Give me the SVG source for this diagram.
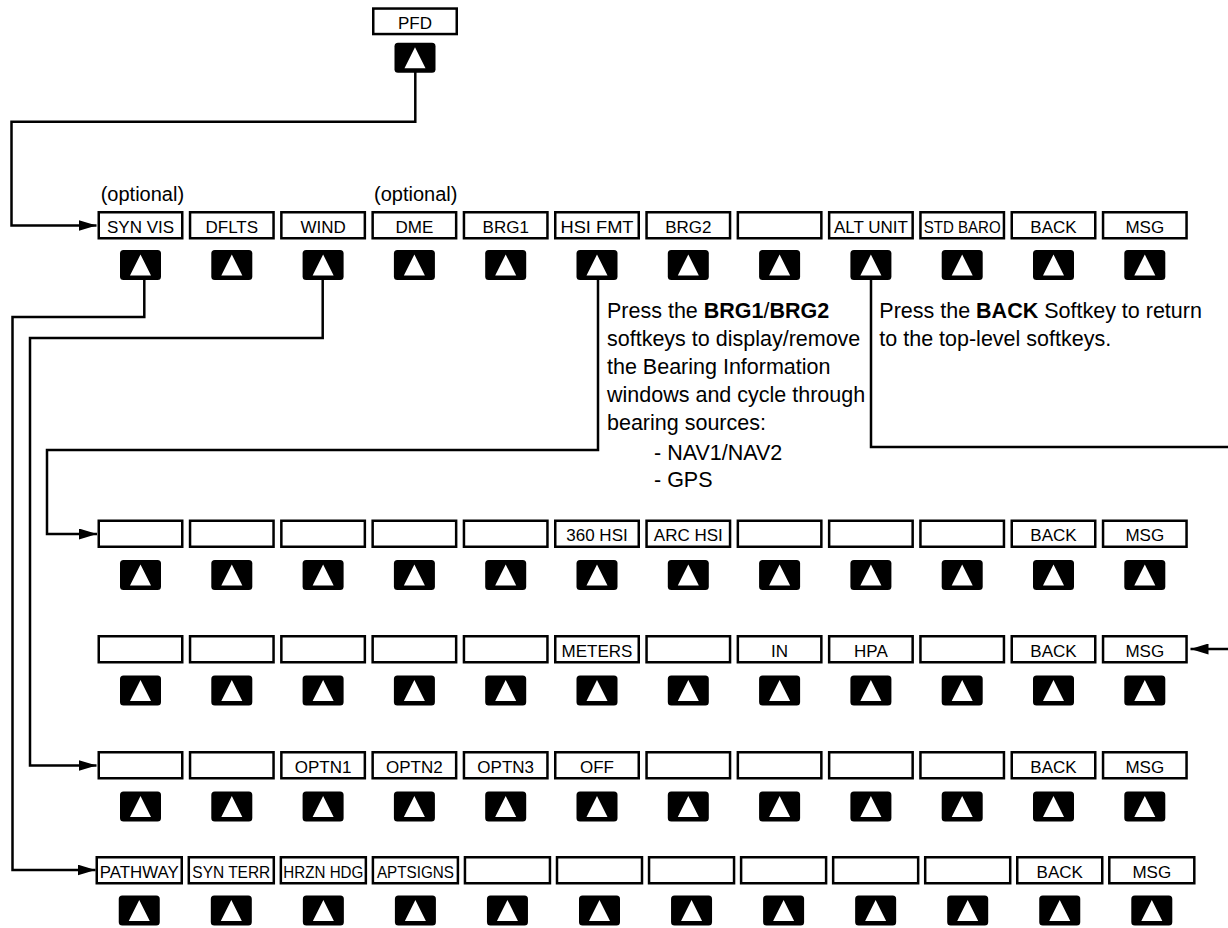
<svg xmlns="http://www.w3.org/2000/svg" xmlns:xlink="http://www.w3.org/1999/xlink" width="1228" height="928" viewBox="0 0 1228 928">
<style>
text{font-family:"Liberation Sans",Arial,sans-serif;fill:#000}
.k{fill:#fff;stroke:#000;stroke-width:2.5}
.l{font-size:17px;text-anchor:middle}
.n{font-size:21.5px}
.o{font-size:20px}
.c{fill:none;stroke:#000;stroke-width:2.5}
</style>
<defs>
<g id="btn"><rect x="-20.5" y="0" width="41" height="30" rx="3.5" fill="#000"/><polygon points="0,4.5 10.5,25.5 -10.5,25.5" fill="#fff"/></g>
<marker id="ah" markerUnits="userSpaceOnUse" markerWidth="19" markerHeight="11" refX="18" refY="5.5" orient="auto"><path d="M0,0 L18,5.5 L0,11 z" fill="#000"/></marker>
</defs>

<g id="connectors">
<path class="c" d="M415.3,72 V121.7 H11.5 V225.5 H96.5" marker-end="url(#ah)"/>
<path class="c" d="M144.3,280 V317 H12.5 V870 H95.5" marker-end="url(#ah)"/>
<path class="c" d="M322.7,280 V338 H30 V765.5 H96.5" marker-end="url(#ah)"/>
<path class="c" d="M598,280 V450 H47 V534 H97" marker-end="url(#ah)"/>
<path class="c" d="M871,280 V447 H1230"/>
<path class="c" d="M1230,649 H1190.5" marker-end="url(#ah)"/>
</g>

<g id="pfd" transform="translate(415,7.3)"><rect class="k" x="-41.75" y="1.25" width="83.5" height="25.5"/><text class="l" x="0" y="21.5">PFD</text><use xlink:href="#btn" y="35.4"/></g>

<g id="notes">
<text class="o" x="100.7" y="201">(optional)</text>
<text class="o" x="374" y="201">(optional)</text>
<text class="n" x="607" y="318">Press the <tspan font-weight="bold">BRG1</tspan>/<tspan font-weight="bold">BRG2</tspan></text>
<text class="n" x="607" y="346">softkeys to display/remove</text>
<text class="n" x="607" y="374">the Bearing Information</text>
<text class="n" x="607" y="402">windows and cycle through</text>
<text class="n" x="607" y="430">bearing sources:</text>
<text class="n" x="654" y="460">- NAV1/NAV2</text>
<text class="n" x="654" y="487">- GPS</text>
<text class="n" x="879.3" y="318">Press the <tspan font-weight="bold">BACK</tspan> Softkey to return</text>
<text class="n" x="879.3" y="346">to the top-level softkeys.</text>
</g>

<!-- Row 1 -->
<g id="r1k0" transform="translate(140.5,211)"><rect class="k" x="-41.75" y="1.25" width="83.5" height="26"/><text class="l" x="0" y="21.5">SYN VIS</text><use xlink:href="#btn" y="39"/></g>
<g id="r1k1" transform="translate(231.8,211)"><rect class="k" x="-41.75" y="1.25" width="83.5" height="26"/><text class="l" x="0" y="21.5">DFLTS</text><use xlink:href="#btn" y="39"/></g>
<g id="r1k2" transform="translate(323.1,211)"><rect class="k" x="-41.75" y="1.25" width="83.5" height="26"/><text class="l" x="0" y="21.5">WIND</text><use xlink:href="#btn" y="39"/></g>
<g id="r1k3" transform="translate(414.4,211)"><rect class="k" x="-41.75" y="1.25" width="83.5" height="26"/><text class="l" x="0" y="21.5">DME</text><use xlink:href="#btn" y="39"/></g>
<g id="r1k4" transform="translate(505.7,211)"><rect class="k" x="-41.75" y="1.25" width="83.5" height="26"/><text class="l" x="0" y="21.5">BRG1</text><use xlink:href="#btn" y="39"/></g>
<g id="r1k5" transform="translate(597,211)"><rect class="k" x="-41.75" y="1.25" width="83.5" height="26"/><text class="l" x="0" y="21.5" textLength="73" lengthAdjust="spacingAndGlyphs">HSI FMT</text><use xlink:href="#btn" y="39"/></g>
<g id="r1k6" transform="translate(688.3,211)"><rect class="k" x="-41.75" y="1.25" width="83.5" height="26"/><text class="l" x="0" y="21.5">BRG2</text><use xlink:href="#btn" y="39"/></g>
<g id="r1k7" transform="translate(779.6,211)"><rect class="k" x="-41.75" y="1.25" width="83.5" height="26"/><use xlink:href="#btn" y="39"/></g>
<g id="r1k8" transform="translate(870.9,211)"><rect class="k" x="-41.75" y="1.25" width="83.5" height="26"/><text class="l" x="0" y="21.5">ALT UNIT</text><use xlink:href="#btn" y="39"/></g>
<g id="r1k9" transform="translate(962.2,211)"><rect class="k" x="-41.75" y="1.25" width="83.5" height="26"/><text class="l" x="0" y="21.5" textLength="77" lengthAdjust="spacingAndGlyphs">STD BARO</text><use xlink:href="#btn" y="39"/></g>
<g id="r1k10" transform="translate(1053.5,211)"><rect class="k" x="-41.75" y="1.25" width="83.5" height="26"/><text class="l" x="0" y="21.5">BACK</text><use xlink:href="#btn" y="39"/></g>
<g id="r1k11" transform="translate(1144.8,211)"><rect class="k" x="-41.75" y="1.25" width="83.5" height="26"/><text class="l" x="0" y="21.5">MSG</text><use xlink:href="#btn" y="39"/></g>

<!-- Row 2 -->
<g id="r2k0" transform="translate(140.5,519.5)"><rect class="k" x="-41.75" y="1.25" width="83.5" height="26"/><use xlink:href="#btn" y="40.5"/></g>
<g id="r2k1" transform="translate(231.8,519.5)"><rect class="k" x="-41.75" y="1.25" width="83.5" height="26"/><use xlink:href="#btn" y="40.5"/></g>
<g id="r2k2" transform="translate(323.1,519.5)"><rect class="k" x="-41.75" y="1.25" width="83.5" height="26"/><use xlink:href="#btn" y="40.5"/></g>
<g id="r2k3" transform="translate(414.4,519.5)"><rect class="k" x="-41.75" y="1.25" width="83.5" height="26"/><use xlink:href="#btn" y="40.5"/></g>
<g id="r2k4" transform="translate(505.7,519.5)"><rect class="k" x="-41.75" y="1.25" width="83.5" height="26"/><use xlink:href="#btn" y="40.5"/></g>
<g id="r2k5" transform="translate(597,519.5)"><rect class="k" x="-41.75" y="1.25" width="83.5" height="26"/><text class="l" x="0" y="21.5">360 HSI</text><use xlink:href="#btn" y="40.5"/></g>
<g id="r2k6" transform="translate(688.3,519.5)"><rect class="k" x="-41.75" y="1.25" width="83.5" height="26"/><text class="l" x="0" y="21.5">ARC HSI</text><use xlink:href="#btn" y="40.5"/></g>
<g id="r2k7" transform="translate(779.6,519.5)"><rect class="k" x="-41.75" y="1.25" width="83.5" height="26"/><use xlink:href="#btn" y="40.5"/></g>
<g id="r2k8" transform="translate(870.9,519.5)"><rect class="k" x="-41.75" y="1.25" width="83.5" height="26"/><use xlink:href="#btn" y="40.5"/></g>
<g id="r2k9" transform="translate(962.2,519.5)"><rect class="k" x="-41.75" y="1.25" width="83.5" height="26"/><use xlink:href="#btn" y="40.5"/></g>
<g id="r2k10" transform="translate(1053.5,519.5)"><rect class="k" x="-41.75" y="1.25" width="83.5" height="26"/><text class="l" x="0" y="21.5">BACK</text><use xlink:href="#btn" y="40.5"/></g>
<g id="r2k11" transform="translate(1144.8,519.5)"><rect class="k" x="-41.75" y="1.25" width="83.5" height="26"/><text class="l" x="0" y="21.5">MSG</text><use xlink:href="#btn" y="40.5"/></g>

<!-- Row 3 -->
<g id="r3k0" transform="translate(140.5,635)"><rect class="k" x="-41.75" y="1.25" width="83.5" height="26"/><use xlink:href="#btn" y="40.5"/></g>
<g id="r3k1" transform="translate(231.8,635)"><rect class="k" x="-41.75" y="1.25" width="83.5" height="26"/><use xlink:href="#btn" y="40.5"/></g>
<g id="r3k2" transform="translate(323.1,635)"><rect class="k" x="-41.75" y="1.25" width="83.5" height="26"/><use xlink:href="#btn" y="40.5"/></g>
<g id="r3k3" transform="translate(414.4,635)"><rect class="k" x="-41.75" y="1.25" width="83.5" height="26"/><use xlink:href="#btn" y="40.5"/></g>
<g id="r3k4" transform="translate(505.7,635)"><rect class="k" x="-41.75" y="1.25" width="83.5" height="26"/><use xlink:href="#btn" y="40.5"/></g>
<g id="r3k5" transform="translate(597,635)"><rect class="k" x="-41.75" y="1.25" width="83.5" height="26"/><text class="l" x="0" y="21.5">METERS</text><use xlink:href="#btn" y="40.5"/></g>
<g id="r3k6" transform="translate(688.3,635)"><rect class="k" x="-41.75" y="1.25" width="83.5" height="26"/><use xlink:href="#btn" y="40.5"/></g>
<g id="r3k7" transform="translate(779.6,635)"><rect class="k" x="-41.75" y="1.25" width="83.5" height="26"/><text class="l" x="0" y="21.5">IN</text><use xlink:href="#btn" y="40.5"/></g>
<g id="r3k8" transform="translate(870.9,635)"><rect class="k" x="-41.75" y="1.25" width="83.5" height="26"/><text class="l" x="0" y="21.5">HPA</text><use xlink:href="#btn" y="40.5"/></g>
<g id="r3k9" transform="translate(962.2,635)"><rect class="k" x="-41.75" y="1.25" width="83.5" height="26"/><use xlink:href="#btn" y="40.5"/></g>
<g id="r3k10" transform="translate(1053.5,635)"><rect class="k" x="-41.75" y="1.25" width="83.5" height="26"/><text class="l" x="0" y="21.5">BACK</text><use xlink:href="#btn" y="40.5"/></g>
<g id="r3k11" transform="translate(1144.8,635)"><rect class="k" x="-41.75" y="1.25" width="83.5" height="26"/><text class="l" x="0" y="21.5">MSG</text><use xlink:href="#btn" y="40.5"/></g>

<!-- Row 4 -->
<g id="r4k0" transform="translate(140.5,751)"><rect class="k" x="-41.75" y="1.25" width="83.5" height="26"/><use xlink:href="#btn" y="40.5"/></g>
<g id="r4k1" transform="translate(231.8,751)"><rect class="k" x="-41.75" y="1.25" width="83.5" height="26"/><use xlink:href="#btn" y="40.5"/></g>
<g id="r4k2" transform="translate(323.1,751)"><rect class="k" x="-41.75" y="1.25" width="83.5" height="26"/><text class="l" x="0" y="21.5">OPTN1</text><use xlink:href="#btn" y="40.5"/></g>
<g id="r4k3" transform="translate(414.4,751)"><rect class="k" x="-41.75" y="1.25" width="83.5" height="26"/><text class="l" x="0" y="21.5">OPTN2</text><use xlink:href="#btn" y="40.5"/></g>
<g id="r4k4" transform="translate(505.7,751)"><rect class="k" x="-41.75" y="1.25" width="83.5" height="26"/><text class="l" x="0" y="21.5">OPTN3</text><use xlink:href="#btn" y="40.5"/></g>
<g id="r4k5" transform="translate(597,751)"><rect class="k" x="-41.75" y="1.25" width="83.5" height="26"/><text class="l" x="0" y="21.5">OFF</text><use xlink:href="#btn" y="40.5"/></g>
<g id="r4k6" transform="translate(688.3,751)"><rect class="k" x="-41.75" y="1.25" width="83.5" height="26"/><use xlink:href="#btn" y="40.5"/></g>
<g id="r4k7" transform="translate(779.6,751)"><rect class="k" x="-41.75" y="1.25" width="83.5" height="26"/><use xlink:href="#btn" y="40.5"/></g>
<g id="r4k8" transform="translate(870.9,751)"><rect class="k" x="-41.75" y="1.25" width="83.5" height="26"/><use xlink:href="#btn" y="40.5"/></g>
<g id="r4k9" transform="translate(962.2,751)"><rect class="k" x="-41.75" y="1.25" width="83.5" height="26"/><use xlink:href="#btn" y="40.5"/></g>
<g id="r4k10" transform="translate(1053.5,751)"><rect class="k" x="-41.75" y="1.25" width="83.5" height="26"/><text class="l" x="0" y="21.5">BACK</text><use xlink:href="#btn" y="40.5"/></g>
<g id="r4k11" transform="translate(1144.8,751)"><rect class="k" x="-41.75" y="1.25" width="83.5" height="26"/><text class="l" x="0" y="21.5">MSG</text><use xlink:href="#btn" y="40.5"/></g>

<!-- Row 5 -->
<g id="r5k0" transform="translate(139.25,856)"><rect class="k" x="-42.5" y="1.25" width="85" height="26"/><text class="l" x="0" y="21.5" textLength="79" lengthAdjust="spacingAndGlyphs">PATHWAY</text><use xlink:href="#btn" y="39.5"/></g>
<g id="r5k1" transform="translate(231.3,856)"><rect class="k" x="-42.5" y="1.25" width="85" height="26"/><text class="l" x="0" y="21.5" textLength="78" lengthAdjust="spacingAndGlyphs">SYN TERR</text><use xlink:href="#btn" y="39.5"/></g>
<g id="r5k2" transform="translate(323.35,856)"><rect class="k" x="-42.5" y="1.25" width="85" height="26"/><text class="l" x="0" y="21.5" textLength="80" lengthAdjust="spacingAndGlyphs">HRZN HDG</text><use xlink:href="#btn" y="39.5"/></g>
<g id="r5k3" transform="translate(415.4,856)"><rect class="k" x="-42.5" y="1.25" width="85" height="26"/><text class="l" x="0" y="21.5" textLength="77" lengthAdjust="spacingAndGlyphs">APTSIGNS</text><use xlink:href="#btn" y="39.5"/></g>
<g id="r5k4" transform="translate(507.45,856)"><rect class="k" x="-42.5" y="1.25" width="85" height="26"/><use xlink:href="#btn" y="39.5"/></g>
<g id="r5k5" transform="translate(599.5,856)"><rect class="k" x="-42.5" y="1.25" width="85" height="26"/><use xlink:href="#btn" y="39.5"/></g>
<g id="r5k6" transform="translate(691.55,856)"><rect class="k" x="-42.5" y="1.25" width="85" height="26"/><use xlink:href="#btn" y="39.5"/></g>
<g id="r5k7" transform="translate(783.6,856)"><rect class="k" x="-42.5" y="1.25" width="85" height="26"/><use xlink:href="#btn" y="39.5"/></g>
<g id="r5k8" transform="translate(875.65,856)"><rect class="k" x="-42.5" y="1.25" width="85" height="26"/><use xlink:href="#btn" y="39.5"/></g>
<g id="r5k9" transform="translate(967.7,856)"><rect class="k" x="-42.5" y="1.25" width="85" height="26"/><use xlink:href="#btn" y="39.5"/></g>
<g id="r5k10" transform="translate(1059.75,856)"><rect class="k" x="-42.5" y="1.25" width="85" height="26"/><text class="l" x="0" y="21.5">BACK</text><use xlink:href="#btn" y="39.5"/></g>
<g id="r5k11" transform="translate(1151.8,856)"><rect class="k" x="-42.5" y="1.25" width="85" height="26"/><text class="l" x="0" y="21.5">MSG</text><use xlink:href="#btn" y="39.5"/></g>
</svg>
